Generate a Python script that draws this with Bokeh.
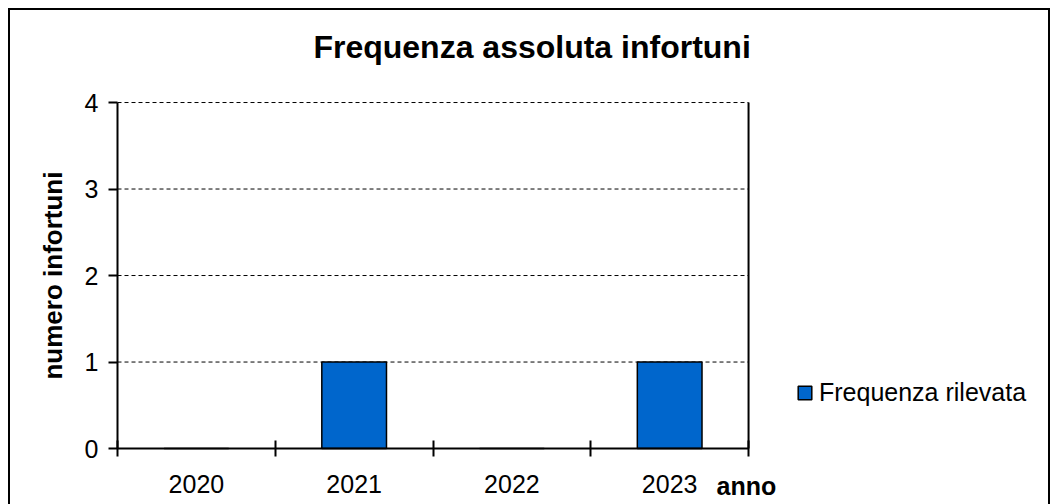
import math
from bokeh.plotting import figure
from bokeh.models import (Range1d, FixedTicker, Label, Legend, LegendItem, ColumnDataSource)
from bokeh.embed import file_html
from bokeh.resources import INLINE

categories = ["2020", "2021", "2022", "2023"]
values = [0, 1, 0, 1]
series_name = "Frequenza rilevata"
title_text = "Frequenza assoluta infortuni"
y_label = "numero infortuni"
x_label = "anno"
y_ticks = [0, 1, 2, 3, 4]

FONT = "Liberation Sans"
n = len(categories)
y_max = max(y_ticks)
x_pos = [i + 0.5 for i in range(n)]
src = ColumnDataSource(dict(x=x_pos, top=values, cat=categories))

# the frame covers the whole figure, so that no text is clipped; axes are fixed at 0
p = figure(width=1042, height=496, output_backend="svg", toolbar_location=None,
           x_range=Range1d(-0.691, 5.914), y_range=Range1d(-0.647, 5.087),
           min_border_left=0, min_border_right=0, min_border_top=0, min_border_bottom=0)
p.title.visible = False
p.styles = {"margin-left": "8px", "margin-top": "8px",
            "box-shadow": "inset 2px 2px 0 black, inset -2px 0 0 black"}
p.border_fill_color = None
p.background_fill_color = None
p.outline_line_color = None
p.xgrid.grid_line_color = None
p.ygrid.grid_line_color = None

# dashed horizontal gridlines, limited to the plotting area
grid_y = [t for t in y_ticks if t > 0]
p.segment(x0=[0] * len(grid_y), x1=[n] * len(grid_y), y0=grid_y, y1=grid_y,
          line_color="black", line_width=1, line_dash="4 3")
# right edge of plot area
p.segment(x0=[n], x1=[n], y0=[0], y1=[y_max], line_color="black", line_width=2)

r = p.vbar(x="x", top="top", width=0.41, bottom=0, source=src,
           fill_color="#0066CC", line_color="black", line_width=1.5)

# x axis, fixed at y = 0
xa = p.xaxis[0]
xa.fixed_location = 0
xa.bounds = (0, n)
xa.ticker = FixedTicker(ticks=x_pos, minor_ticks=list(range(n + 1)))
xa.major_label_overrides = {x: c for x, c in zip(x_pos, categories)}
xa.major_tick_in = 0
xa.major_tick_out = 0
xa.minor_tick_in = 8
xa.minor_tick_out = 8
xa.minor_tick_line_color = "black"
xa.minor_tick_line_width = 2
xa.axis_line_color = "black"
xa.axis_line_width = 2
xa.major_label_text_font = FONT
xa.major_label_text_font_size = "25px"
xa.major_label_text_color = "black"
xa.major_label_standoff = 18

# y axis, fixed at x = 0
ya = p.yaxis[0]
ya.fixed_location = 0
ya.bounds = (0, y_max)
ya.ticker = FixedTicker(ticks=y_ticks)
ya.major_tick_in = 0
ya.major_tick_out = 9
ya.major_tick_line_width = 2
ya.major_tick_line_color = "black"
ya.minor_tick_line_color = None
ya.axis_line_color = "black"
ya.axis_line_width = 2
ya.major_label_text_font = FONT
ya.major_label_text_font_size = "25px"
ya.major_label_text_color = "black"
ya.major_label_standoff = 10

p.add_layout(Label(x=-0.406, y=y_max / 2, text=y_label, angle=math.pi / 2, text_font=FONT,
                   text_font_size="26px", text_font_style="bold", text_align="center",
                   text_baseline="middle", text_color="black"))

p.add_layout(Label(x=2.628, y=4.642, text=title_text, text_font=FONT, text_font_size="32px",
                   text_font_style="bold", text_align="center", text_baseline="middle",
                   text_color="black"))

p.add_layout(Label(x=3.797, y=-0.428, text=x_label, text_font=FONT,
                   text_font_size="25px", text_font_style="bold", text_baseline="middle",
                   text_color="black"))

legend = Legend(items=[LegendItem(label=series_name, renderers=[r])], location=(788, 97),
                label_text_font=FONT, label_text_font_size="25px", label_text_color="black",
                glyph_width=17, glyph_height=17, label_standoff=6, padding=0, margin=0,
                border_line_color=None, background_fill_alpha=0)
p.add_layout(legend)

open("out.html", "w").write(file_html(p, INLINE))
